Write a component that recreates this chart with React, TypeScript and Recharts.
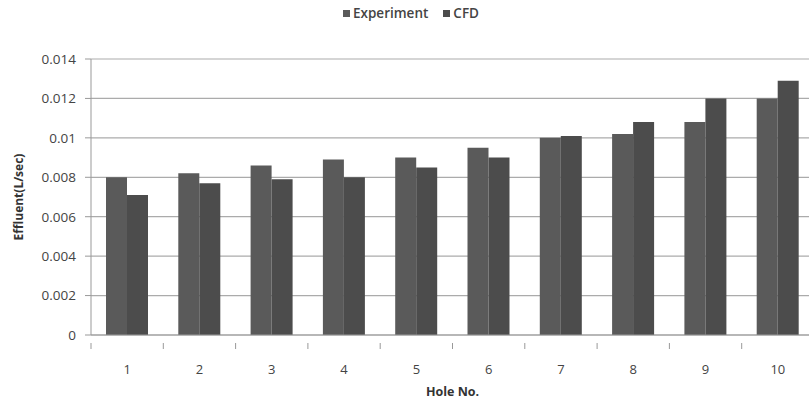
import { BarChart, Bar, XAxis, YAxis, CartesianGrid } from "recharts";

const holes = ["1", "2", "3", "4", "5", "6", "7", "8", "9", "10"];
const experiment = [0.008, 0.0082, 0.0086, 0.0089, 0.009, 0.0095, 0.01, 0.0102, 0.0108, 0.012];
const cfd = [0.0071, 0.0077, 0.0079, 0.008, 0.0085, 0.009, 0.0101, 0.0108, 0.012, 0.0129];
const yTicks = [0, 0.002, 0.004, 0.006, 0.008, 0.01, 0.012, 0.014];

const seriesNames = ["Experiment", "CFD"];
const seriesColors = ["#5a5a5a", "#4c4c4c"];

const data = holes.map((h, i) => ({
  hole: h,
  Experiment: experiment[i],
  CFD: cfd[i],
}));

const FONT = "'Open Sans', sans-serif";
const TEXT = "#444";

const CHART_W = 830;
const CHART_H = 405;
const PLOT_LEFT = 91;
const PLOT_RIGHT = 16;
const BAND = (CHART_W - PLOT_LEFT - PLOT_RIGHT) / holes.length;

// category label centred, tick mark at the left boundary of each category
function HoleTick(props: any) {
  const { x, y, payload } = props;
  const bx = x - BAND / 2;
  return (
    <g>
      <line x1={bx} y1={y} x2={bx} y2={y + 6} stroke="#999" strokeWidth={1} />
      <text
        x={x}
        y={y + 31}
        textAnchor="middle"
        fontFamily={FONT}
        fontSize={13}
        fill={TEXT}
      >
        {payload.value}
      </text>
    </g>
  );
}

function YLabel(props: any) {
  const { viewBox } = props;
  const cx = 18;
  const cy = viewBox.y + viewBox.height / 2;
  return (
    <text
      x={cx}
      y={cy}
      transform={`rotate(-90, ${cx}, ${cy})`}
      textAnchor="middle"
      dominantBaseline="central"
      fontFamily={FONT}
      fontSize={12}
      fontWeight={700}
      fill="#333"
    >
      Effluent(L/sec)
    </text>
  );
}

function XLabel(props: any) {
  const { viewBox } = props;
  return (
    <text
      x={viewBox.x + viewBox.width / 2}
      y={viewBox.y + 61}
      textAnchor="middle"
      fontFamily={FONT}
      fontSize={12.5}
      fontWeight={700}
      fill="#333"
    >
      Hole No.
    </text>
  );
}

export default function App() {
  return (
    <div
      style={{
        position: "fixed",
        left: 0,
        top: 0,
        width: 809,
        height: 405,
        overflow: "hidden",
        background: "#fff",
      }}
    >
      <div
        style={{
          position: "absolute",
          top: 4,
          left: 0,
          width: 822,
          display: "flex",
          justifyContent: "center",
          alignItems: "center",
          gap: 15,
          fontFamily: FONT,
          fontSize: 13.5,
          fontWeight: 600,
          color: TEXT,
          height: 18,
        }}
      >
        {seriesNames.map((name, i) => (
          <div key={name} style={{ display: "flex", alignItems: "center", gap: 3 }}>
            <span
              style={{
                display: "inline-block",
                width: 7,
                height: 7,
                background: seriesColors[i],
              }}
            />
            <span>{name}</span>
          </div>
        ))}
      </div>
      <BarChart
        width={CHART_W}
        height={CHART_H}
        data={data}
        margin={{ top: 59, right: PLOT_RIGHT, bottom: 0, left: 0 }}
        barGap={0}
        barSize={21}
      >
        <CartesianGrid vertical={false} stroke="#ababab" strokeWidth={1.2} />
        <XAxis
          dataKey="hole"
          height={70}
          axisLine={{ stroke: "#999" }}
          tickLine={false}
          tick={<HoleTick />}
          interval={0}
          label={<XLabel />}
        />
        <YAxis
          width={PLOT_LEFT}
          domain={[0, 0.014]}
          ticks={yTicks}
          interval={0}
          axisLine={{ stroke: "#999" }}
          tickLine={{ stroke: "#999" }}
          tickSize={6}
          tickMargin={9}
          tick={{ fontFamily: FONT, fontSize: 13.5, fill: TEXT }}
          label={<YLabel />}
        />
        {seriesNames.map((name, i) => (
          <Bar
            key={name}
            dataKey={name}
            fill={seriesColors[i]}
            isAnimationActive={false}
          />
        ))}
      </BarChart>
    </div>
  );
}
